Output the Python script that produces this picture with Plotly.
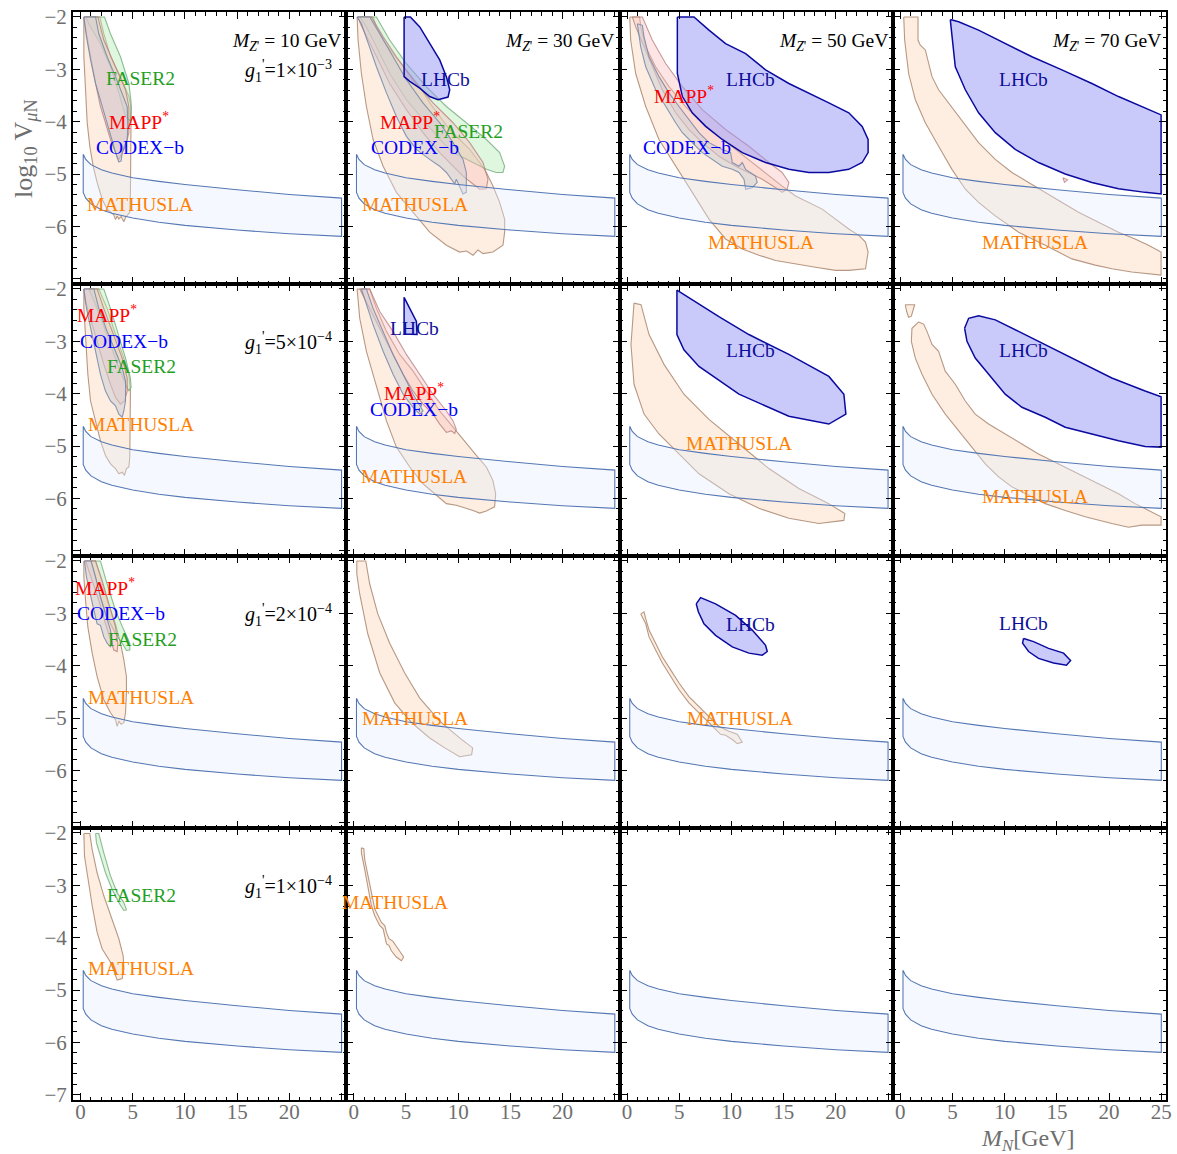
import plotly.graph_objects as go
from plotly.subplots import make_subplots

SERIF = "Liberation Serif, Times New Roman, serif"

# ---------------- data ----------------
MZ_VALUES = ["10", "30", "50", "70"]
G1_VALUES = ["1×10<sup>−3</sup>", "5×10<sup>−4</sup>", "2×10<sup>−4</sup>", "1×10<sup>−4</sup>"]

X_TICKS = [0, 5, 10, 15, 20, 25]
Y_TICKS = [-7, -6, -5, -4, -3, -2]

# reference band (same in every panel)
BAND_MN = [0.26, 0.5, 1, 2, 3, 5, 7.5, 10, 15, 20, 25]
BAND_UPPER = [-4.62, -4.72, -4.82, -4.92, -4.98, -5.07, -5.14, -5.20, -5.30, -5.39, -5.46]
BAND_LOWER = [-5.35, -5.46, -5.57, -5.68, -5.75, -5.84, -5.92, -5.98, -6.07, -6.14, -6.19]

# ---- row 1 : g1' = 1e-3 ----
MATHUSLA_R1C1 = [(0.32,-2.0),(1.85,-2.0),(2.23,-2.32),(2.87,-2.76),(3.83,-3.14),(4.63,-3.52),(4.85,-3.71),
                 (4.85,-4.66),(4.78,-5.35),(4.72,-5.73),(4.31,-5.83),(4.15,-5.91),(3.89,-5.81),(3.67,-5.86),
                 (3.51,-5.80),(3.35,-5.87),(3.19,-5.78),(2.55,-5.67),(2.07,-5.48),(1.59,-5.16),(1.21,-4.85),
                 (0.89,-4.47),(0.64,-4.02),(0.48,-3.39),(0.32,-2.76)]
FASER2_R1C1 = [(0.48,-2.0),(2.30,-2.0),(2.87,-2.32),(3.83,-2.76),(4.63,-3.27),(4.85,-3.64),(4.78,-3.99),
               (4.31,-3.90),(3.67,-3.45),(2.87,-2.95),(1.91,-2.51),(0.96,-2.19)]
MAPP_R1C1 = [(0.32,-2.0),(1.66,-2.0),(2.23,-2.44),(3.35,-2.95),(4.31,-3.39),(4.63,-3.71),(4.63,-4.21),
             (4.31,-4.47),(3.99,-4.59),(3.67,-4.72),(3.35,-4.59),(2.87,-4.34),(2.39,-4.02),(1.91,-3.71),
             (1.44,-3.27),(0.96,-2.76),(0.57,-2.32)]
CODEXB_R1C1 = [(0.32,-2.0),(1.44,-2.0),(1.75,-2.32),(2.55,-2.76),(3.35,-3.14),(3.99,-3.45),(4.47,-3.71),
               (4.53,-4.09),(4.47,-4.34),(4.21,-4.47),(3.99,-4.59),(3.89,-4.75),(3.67,-4.77),(3.51,-4.69),
               (3.19,-4.47),(2.87,-4.28),(2.39,-3.96),(1.91,-3.64),(1.44,-3.27),(0.96,-2.82),(0.57,-2.38)]

MATHUSLA_R1C2 = [(0.32,-2.0),(1.85,-2.0),(2.17,-2.19),(2.81,-2.44),(3.76,-2.70),(5.04,-3.01),(6.32,-3.33),
                 (7.27,-3.64),(8.23,-3.90),(9.19,-4.15),(10.14,-4.34),(11.10,-4.53),(12.06,-4.78),(12.70,-4.97),
                 (13.33,-5.23),(13.97,-5.54),(14.45,-5.86),(14.45,-6.11),(14.29,-6.36),(13.33,-6.49),
                 (12.38,-6.52),(11.9,-6.45),(11.42,-6.55),(10.8,-6.47),(10.14,-6.49),(8.87,-6.36),(7.27,-6.11),
                 (5.68,-5.73),(4.08,-5.35),(2.81,-4.85),(1.85,-4.34),(1.21,-3.71),(0.73,-3.08),(0.41,-2.44)]
FASER2_R1C2 = [(0.57,-2.0),(2.17,-2.0),(3.44,-2.44),(5.04,-2.89),(6.95,-3.33),(8.87,-3.71),(10.78,-4.02),
               (12.70,-4.34),(13.97,-4.59),(14.45,-4.85),(14.29,-4.97),(13.65,-4.97),(12.70,-4.91),
               (11.42,-4.78),(9.51,-4.59),(8.23,-4.34),(6.63,-3.96),(5.04,-3.58),(3.44,-3.08),(2.17,-2.57),
               (1.21,-2.19)]
MAPP_R1C2 = [(0.41,-2.0),(1.69,-2.0),(2.81,-2.38),(4.08,-2.76),(5.68,-3.20),(7.59,-3.64),(9.51,-4.02),
             (11.10,-4.40),(12.38,-4.78),(12.85,-5.10),(12.70,-5.28),(12.06,-5.29),(11.42,-5.19),
             (10.46,-5.04),(9.51,-4.85),(8.23,-4.59),(6.63,-4.21),(5.04,-3.77),(3.44,-3.27),(2.17,-2.76),
             (1.21,-2.38),(0.64,-2.13)]
CODEXB_R1C2 = [(0.32,-2.0),(1.53,-2.0),(2.49,-2.32),(3.76,-2.76),(5.04,-3.20),(6.63,-3.64),(8.23,-4.02),
               (9.51,-4.40),(10.46,-4.72),(10.78,-4.97),(10.78,-5.35),(10.46,-5.38),(10.14,-5.23),
               (9.82,-5.10),(9.67,-5.19),(9.35,-5.10),(8.87,-4.97),(8.23,-4.85),(7.27,-4.72),(6.0,-4.53),
               (5.04,-4.28),(4.08,-3.90),(3.13,-3.45),(2.17,-2.95),(1.37,-2.51),(0.73,-2.13)]
LHCB_R1C2 = [(4.82,-2.0),(5.42,-2.0),(6.32,-2.19),(7.27,-2.51),(8.23,-2.82),(8.87,-3.14),(9.19,-3.39),
             (9.03,-3.53),(8.07,-3.58),(7.27,-3.52),(6.32,-3.36),(5.36,-3.23),(4.82,-3.14)]

MATHUSLA_R1C3 = [(0.26,-2.0),(1.21,-2.0),(1.31,-2.19),(1.79,-2.57),(2.74,-2.95),(4.02,-3.33),(5.61,-3.71),
                 (7.21,-4.02),(8.80,-4.28),(10.40,-4.53),(11.99,-4.78),(13.59,-5.04),(14.86,-5.23),
                 (16.14,-5.42),(17.42,-5.54),(18.69,-5.67),(19.97,-5.86),(21.24,-6.05),(22.20,-6.17),
                 (22.84,-6.30),(23.09,-6.49),(22.84,-6.81),(21.24,-6.84),(19.97,-6.84),(18.05,-6.78),
                 (15.82,-6.71),(14.23,-6.65),(12.63,-6.55),(11.04,-6.43),(9.44,-6.24),(7.85,-5.86),
                 (6.25,-5.35),(4.66,-4.85),(3.06,-4.34),(1.79,-3.71),(0.83,-3.08),(0.35,-2.44)]
MAPP_R1C3 = [(0.51,-2.0),(1.47,-2.0),(2.42,-2.44),(3.70,-2.89),(5.30,-3.33),(7.21,-3.77),(9.44,-4.15),
             (11.67,-4.47),(13.59,-4.78),(14.86,-4.97),(15.50,-5.16),(15.34,-5.29),(14.86,-5.35),
             (14.23,-5.26),(12.95,-5.10),(11.67,-4.97),(10.40,-4.85),(8.80,-4.66),(7.21,-4.40),
             (5.93,-4.15),(4.66,-3.83),(3.38,-3.39),(2.42,-2.95),(1.47,-2.51),(0.83,-2.19)]
CODEXB_R1C3 = [(0.99,-2.13),(1.47,-2.16),(1.63,-2.38),(2.11,-2.76),(3.06,-3.14),(4.02,-3.45),(4.98,-3.71),
               (5.93,-3.96),(6.89,-4.21),(7.85,-4.40),(9.12,-4.53),(9.92,-4.59),(10.08,-4.78),(10.72,-4.85),
               (11.04,-4.78),(11.36,-4.91),(12.31,-5.04),(12.47,-5.16),(11.99,-5.26),(11.36,-5.29),
               (11.20,-5.10),(10.72,-4.97),(10.08,-4.91),(9.12,-4.85),(8.17,-4.72),(7.21,-4.59),
               (6.25,-4.40),(5.30,-4.21),(4.66,-4.02),(3.70,-3.71),(2.74,-3.39),(1.79,-2.95),(1.31,-2.57)]
LHCB_R1C3 = [(4.82,-2.0),(6.41,-2.0),(7.85,-2.25),(9.44,-2.51),(11.36,-2.70),(13.27,-3.01),(15.50,-3.27),
             (17.42,-3.45),(19.33,-3.64),(21.24,-3.83),(22.52,-4.09),(23.09,-4.34),(23.09,-4.59),
             (22.52,-4.78),(21.24,-4.91),(19.33,-4.97),(17.42,-4.97),(15.50,-4.91),(13.27,-4.78),
             (11.04,-4.59),(9.12,-4.34),(7.53,-4.09),(6.25,-3.83),(5.30,-3.52),(4.82,-3.08)]

MATHUSLA_R1C4 = [(0.33,-2.0),(1.70,-2.0),(1.70,-2.44),(1.92,-2.54),(2.40,-2.63),(2.72,-2.89),(3.04,-3.14),
                 (3.67,-3.39),(4.63,-3.64),(5.59,-3.90),(6.55,-4.15),(7.50,-4.40),(9.10,-4.72),(10.69,-4.97),
                 (12.29,-5.16),(13.88,-5.35),(15.48,-5.54),(17.07,-5.73),(18.99,-5.92),(20.90,-6.11),
                 (22.49,-6.24),(23.77,-6.36),(24.98,-6.49),(24.98,-6.93),(22.17,-6.87),(20.26,-6.81),
                 (18.67,-6.74),(16.43,-6.62),(13.88,-6.36),(11.33,-6.11),(9.10,-5.80),(7.50,-5.54),
                 (6.23,-5.29),(4.95,-4.91),(3.67,-4.47),(2.40,-4.02),(1.44,-3.58),(0.80,-3.08),(0.42,-2.44)]
MAPP_R1C4 = [(15.57,-5.07),(16.02,-5.11),(15.73,-5.16)]
LHCB_R1C4 = [(4.79,-2.05),(5.59,-2.09),(7.50,-2.25),(10.05,-2.51),(12.61,-2.76),(15.48,-3.01),(18.35,-3.27),
             (20.90,-3.52),(23.13,-3.71),(24.98,-3.87),(24.98,-5.38),(23.45,-5.35),(20.90,-5.28),
             (18.35,-5.16),(15.80,-5.00),(13.24,-4.78),(11.01,-4.53),(9.10,-4.21),(7.50,-3.83),
             (6.23,-3.39),(5.27,-2.95)]

# ---- row 2 : g1' = 5e-4 ----
MATHUSLA_R2C1 = [(0.32,-2.0),(1.75,-2.0),(2.55,-2.37),(3.35,-2.87),(4.15,-3.32),(4.63,-3.63),(4.78,-3.95),
                 (4.78,-4.58),(4.72,-5.21),(4.63,-5.40),(4.40,-5.43),(4.21,-5.56),(3.99,-5.50),(3.67,-5.53),
                 (3.35,-5.43),(2.87,-5.34),(2.39,-5.18),(1.91,-4.90),(1.44,-4.52),(0.96,-4.14),(0.70,-3.63),
                 (0.48,-3.0),(0.32,-2.37)]
FASER2_R2C1 = [(0.80,-2.0),(2.23,-2.0),(2.87,-2.37),(3.51,-2.81),(4.31,-3.32),(4.78,-3.70),(4.85,-3.88),
               (4.63,-3.95),(4.31,-3.82),(3.67,-3.51),(2.87,-3.06),(2.07,-2.62),(1.44,-2.30)]
MAPP_R2C1 = [(0.32,-2.0),(1.59,-2.0),(2.23,-2.37),(3.19,-2.87),(3.99,-3.32),(4.47,-3.70),(4.47,-3.95),
             (4.21,-4.14),(3.83,-4.20),(3.35,-4.07),(2.87,-3.82),(2.23,-3.44),(1.59,-3.0),(0.96,-2.56),
             (0.48,-2.24)]
CODEXB_R2C1 = [(0.32,-2.0),(1.28,-2.0),(1.75,-2.37),(2.55,-2.81),(3.35,-3.19),(3.99,-3.51),(4.31,-3.76),
               (4.31,-4.14),(4.15,-4.33),(3.99,-4.45),(3.67,-4.39),(3.35,-4.23),(2.87,-4.14),(2.39,-3.95),
               (1.91,-3.63),(1.44,-3.19),(0.96,-2.75),(0.57,-2.37)]

MATHUSLA_R2C2 = [(0.32,-2.0),(1.53,-2.0),(2.17,-2.37),(3.13,-2.81),(4.40,-3.25),(5.68,-3.57),(6.95,-3.95),
                 (8.23,-4.33),(9.51,-4.64),(10.78,-4.96),(11.74,-5.18),(12.70,-5.40),(13.33,-5.66),
                 (13.59,-5.91),(13.49,-6.16),(12.70,-6.24),(12.06,-6.28),(11.42,-6.23),(10.78,-6.19),
                 (9.82,-6.13),(8.87,-6.10),(7.91,-5.94),(6.63,-5.72),(5.36,-5.40),(4.08,-5.02),(3.13,-4.52),
                 (2.17,-3.88),(1.21,-3.19),(0.57,-2.56)]
MAPP_R2C2 = [(0.57,-2.0),(1.53,-2.0),(2.49,-2.43),(3.76,-2.81),(5.04,-3.25),(6.32,-3.63),(7.59,-4.01),
             (8.87,-4.33),(9.51,-4.52),(9.82,-4.68),(9.67,-4.76),(9.35,-4.71),(8.87,-4.74),(8.23,-4.58),
             (7.59,-4.39),(6.63,-4.20),(5.68,-3.95),(4.72,-3.63),(3.76,-3.25),(2.81,-2.87),(1.85,-2.49),
             (1.05,-2.18)]
CODEXB_R2C2 = [(0.73,-2.0),(1.21,-2.0),(1.85,-2.37),(2.81,-2.81),(3.76,-3.25),(4.72,-3.63),(5.68,-4.01),
               (6.63,-4.33),(6.32,-4.39),(5.68,-4.26),(4.72,-4.01),(3.76,-3.63),(2.81,-3.19),(1.85,-2.68),
               (1.21,-2.30)]
LHCB_R2C2 = [(4.82,-2.16),(6.0,-2.62),(6.06,-2.87),(4.82,-2.86)]

MATHUSLA_R2C3 = [(0.67,-2.27),(1.34,-2.30),(2.11,-2.87),(3.54,-3.44),(5.45,-4.01),(7.85,-4.49),(10.72,-4.96),
                 (13.59,-5.43),(16.46,-5.81),(19.33,-6.10),(20.86,-6.29),(20.77,-6.42),(18.37,-6.48),
                 (15.50,-6.38),(12.63,-6.19),(9.76,-5.91),(6.89,-5.53),(4.98,-5.15),(3.06,-4.77),
                 (1.63,-4.39),(0.67,-3.82),(0.38,-3.06)]
LHCB_R2C3 = [(4.78,-2.02),(6.41,-2.23),(8.80,-2.53),(11.67,-2.87),(15.50,-3.25),(19.33,-3.67),(20.77,-4.01),
             (20.96,-4.39),(19.33,-4.58),(15.50,-4.43),(10.72,-4.01),(6.89,-3.48),(5.45,-3.16),(4.78,-2.87)]

MATHUSLA_R2C4_SPOT = [(0.48,-2.30),(1.38,-2.30),(1.06,-2.52),(0.80,-2.54),(0.61,-2.43)]
MATHUSLA_R2C4 = [(1.76,-2.63),(1.12,-2.75),(1.06,-3.0),(1.44,-3.32),(2.08,-3.63),(3.04,-4.01),(4.31,-4.39),
                 (5.59,-4.71),(6.87,-5.02),(8.14,-5.34),(9.42,-5.59),(10.69,-5.78),(12.29,-5.94),(13.88,-6.10),
                 (15.80,-6.23),(17.71,-6.35),(20.26,-6.48),(21.86,-6.55),(23.13,-6.51),(24.98,-6.51),
                 (24.98,-6.35),(23.77,-6.23),(22.49,-6.10),(20.90,-5.91),(18.99,-5.72),(17.07,-5.53),
                 (15.16,-5.34),(13.24,-5.15),(11.65,-4.96),(10.05,-4.77),(8.46,-4.58),(7.18,-4.39),
                 (6.23,-4.14),(5.27,-3.82),(4.31,-3.57),(3.67,-3.19),(3.04,-3.06),(2.56,-2.81),(2.24,-2.67)]
LHCB_R2C4 = [(6.16,-2.75),(6.55,-2.56),(7.50,-2.51),(9.10,-2.59),(11.33,-2.81),(13.88,-3.06),(17.07,-3.38),
             (20.26,-3.70),(23.45,-3.95),(24.98,-4.06),(24.98,-5.02),(23.45,-5.01),(20.90,-4.90),
             (18.35,-4.77),(15.80,-4.64),(13.88,-4.45),(11.65,-4.26),(10.05,-4.01),(8.46,-3.63),
             (7.18,-3.32),(6.39,-3.0)]

# ---- row 3 : g1' = 2e-4 ----
MATHUSLA_R3C1 = [(0.32,-2.0),(1.44,-2.0),(1.91,-2.31),(2.55,-2.75),(3.35,-3.20),(3.83,-3.57),(4.15,-3.89),
                 (4.40,-4.21),(4.40,-4.52),(4.31,-4.90),(4.15,-5.09),(3.89,-5.12),(3.67,-5.06),(3.51,-5.16),
                 (3.35,-5.03),(2.87,-4.90),(2.23,-4.65),(1.59,-4.21),(1.12,-3.76),(0.70,-3.26),(0.48,-2.75),
                 (0.32,-2.31)]
FASER2_R3C1 = [(0.96,-2.0),(1.91,-2.0),(2.55,-2.44),(3.35,-2.94),(4.15,-3.32),(4.72,-3.57),(4.72,-3.70),
               (4.40,-3.71),(3.99,-3.57),(3.35,-3.39),(2.55,-3.07),(1.91,-2.69),(1.44,-2.31)]
MAPP_R3C1 = [(0.48,-2.0),(1.44,-2.0),(2.07,-2.37),(2.71,-2.82),(3.35,-3.26),(3.57,-3.57),(3.51,-3.73),
             (3.19,-3.70),(2.87,-3.51),(2.39,-3.20),(1.75,-2.75),(1.12,-2.37),(0.64,-2.12)]
CODEXB_R3C1 = [(0.38,-2.0),(1.02,-2.0),(1.44,-2.31),(1.91,-2.69),(2.39,-3.01),(2.87,-3.32),(3.03,-3.57),
               (2.87,-3.64),(2.55,-3.57),(2.23,-3.45),(1.91,-3.23),(1.59,-3.20),(1.28,-2.94),(0.96,-2.63),
               (0.57,-2.31)]

MATHUSLA_R3C2 = [(0.29,-2.0),(1.15,-2.0),(1.53,-2.44),(2.30,-3.01),(3.44,-3.57),(4.88,-4.14),(6.32,-4.62),
                 (8.23,-5.06),(10.14,-5.38),(11.39,-5.57),(11.29,-5.70),(10.14,-5.74),(8.71,-5.57),
                 (7.27,-5.38),(5.55,-5.09),(3.92,-4.71),(2.49,-4.14),(1.34,-3.39),(0.57,-2.63),(0.29,-2.25)]

MATHUSLA_R3C3 = [(1.31,-3.01),(1.63,-2.97),(1.79,-3.10),(2.11,-3.32),(2.74,-3.57),(3.38,-3.83),(4.18,-4.08),
                 (4.98,-4.33),(5.93,-4.59),(6.89,-4.78),(7.85,-4.97),(8.80,-5.16),(9.76,-5.25),(10.56,-5.31),
                 (11.04,-5.46),(10.56,-5.49),(10.08,-5.41),(9.44,-5.33),(8.96,-5.31),(8.48,-5.22),
                 (7.85,-5.09),(6.89,-4.90),(5.93,-4.71),(4.98,-4.46),(4.18,-4.21),(3.38,-3.95),(2.74,-3.70),
                 (2.11,-3.45),(1.79,-3.20),(1.47,-3.08)]
LHCB_R3C3 = [(6.63,-2.82),(7.05,-2.70),(8.48,-2.82),(10.40,-3.04),(11.99,-3.32),(13.27,-3.61),(13.43,-3.73),
             (12.95,-3.80),(11.67,-3.76),(10.08,-3.64),(8.48,-3.42),(7.37,-3.20),(6.83,-2.97)]

LHCB_R3C4 = [(11.81,-3.48),(12.77,-3.54),(14.20,-3.67),(15.64,-3.76),(16.31,-3.90),(15.92,-3.99),
             (14.68,-3.95),(13.24,-3.86),(12.29,-3.73),(11.71,-3.57)]

# ---- row 4 : g1' = 1e-4 ----
MATHUSLA_R4C1 = [(0.32,-2.01),(0.89,-2.01),(1.12,-2.32),(1.59,-2.76),(2.23,-3.20),(3.03,-3.64),(3.67,-4.02),
                 (4.08,-4.34),(4.15,-4.59),(3.99,-4.78),(3.51,-4.81),(3.35,-4.72),(2.87,-4.47),(2.07,-4.21),
                 (1.59,-3.90),(1.12,-3.39),(0.70,-2.89),(0.38,-2.44)]
FASER2_R4C1 = [(1.44,-2.01),(1.75,-2.01),(2.23,-2.38),(2.87,-2.82),(3.51,-3.14),(4.15,-3.33),(4.40,-3.47),
               (4.15,-3.48),(3.67,-3.33),(3.03,-3.08),(2.39,-2.76),(1.91,-2.44),(1.53,-2.19)]
MATHUSLA_R4C2 = [(0.73,-2.28),(0.96,-2.30),(1.05,-2.51),(1.37,-2.82),(1.69,-3.14),(2.01,-3.45),(2.33,-3.58),
                 (2.65,-3.71),(2.97,-3.77),(3.13,-3.90),(3.38,-4.02),(3.76,-4.07),(4.24,-4.21),(4.78,-4.37),
                 (4.56,-4.44),(4.08,-4.37),(3.60,-4.25),(3.38,-4.15),(3.13,-4.12),(2.81,-3.83),(2.49,-3.77),
                 (2.01,-3.58),(1.69,-3.39),(1.37,-3.08),(1.05,-2.70),(0.73,-2.38)]

# (row, col, detector, polygon) -- drawing order
REGIONS = [
    (1, 1, "MATHUSLA", MATHUSLA_R1C1), (1, 1, "FASER2", FASER2_R1C1), (1, 1, "MAPP", MAPP_R1C1), (1, 1, "CODEXB", CODEXB_R1C1),
    (1, 2, "MATHUSLA", MATHUSLA_R1C2), (1, 2, "FASER2", FASER2_R1C2), (1, 2, "MAPP", MAPP_R1C2), (1, 2, "CODEXB", CODEXB_R1C2), (1, 2, "LHCB", LHCB_R1C2),
    (1, 3, "MATHUSLA", MATHUSLA_R1C3), (1, 3, "MAPP", MAPP_R1C3), (1, 3, "CODEXB", CODEXB_R1C3), (1, 3, "LHCB", LHCB_R1C3),
    (1, 4, "MATHUSLA", MATHUSLA_R1C4), (1, 4, "MAPP", MAPP_R1C4), (1, 4, "LHCB", LHCB_R1C4),
    (2, 1, "MATHUSLA", MATHUSLA_R2C1), (2, 1, "FASER2", FASER2_R2C1), (2, 1, "MAPP", MAPP_R2C1), (2, 1, "CODEXB", CODEXB_R2C1),
    (2, 2, "MATHUSLA", MATHUSLA_R2C2), (2, 2, "MAPP", MAPP_R2C2), (2, 2, "CODEXB", CODEXB_R2C2), (2, 2, "LHCB", LHCB_R2C2),
    (2, 3, "MATHUSLA", MATHUSLA_R2C3), (2, 3, "LHCB", LHCB_R2C3),
    (2, 4, "MATHUSLA", MATHUSLA_R2C4_SPOT), (2, 4, "MATHUSLA", MATHUSLA_R2C4), (2, 4, "LHCB", LHCB_R2C4),
    (3, 1, "MATHUSLA", MATHUSLA_R3C1), (3, 1, "FASER2", FASER2_R3C1), (3, 1, "MAPP", MAPP_R3C1), (3, 1, "CODEXB", CODEXB_R3C1),
    (3, 2, "MATHUSLA", MATHUSLA_R3C2),
    (3, 3, "MATHUSLA", MATHUSLA_R3C3), (3, 3, "LHCB", LHCB_R3C3),
    (3, 4, "LHCB", LHCB_R3C4),
    (4, 1, "MATHUSLA", MATHUSLA_R4C1), (4, 1, "FASER2", FASER2_R4C1),
    (4, 2, "MATHUSLA", MATHUSLA_R4C2),
]

# (row, col, detector, x, y) label positions
LABELS = [
    (1, 1, "FASER2", 5.74, -3.17), (1, 1, "MAPP", 5.58, -3.99), (1, 1, "CODEXB", 5.74, -4.50), (1, 1, "MATHUSLA", 5.74, -5.59),
    (1, 2, "LHCB", 8.80, -3.19), (1, 2, "MAPP", 5.36, -3.99), (1, 2, "FASER2", 10.94, -4.18), (1, 2, "CODEXB", 5.84, -4.50), (1, 2, "MATHUSLA", 5.84, -5.59),
    (1, 3, "LHCB", 11.83, -3.19), (1, 3, "MAPP", 5.45, -3.49), (1, 3, "CODEXB", 5.77, -4.50), (1, 3, "MATHUSLA", 12.79, -6.30),
    (1, 4, "LHCB", 11.81, -3.19), (1, 4, "MATHUSLA", 12.86, -6.30),
    (2, 1, "MAPP", 2.55, -2.48), (2, 1, "CODEXB", 4.21, -3.00), (2, 1, "FASER2", 5.81, -3.49), (2, 1, "MATHUSLA", 5.81, -4.58),
    (2, 2, "LHCB", 5.84, -2.76), (2, 2, "MAPP", 5.74, -3.96), (2, 2, "CODEXB", 5.74, -4.30), (2, 2, "MATHUSLA", 5.74, -5.59),
    (2, 3, "LHCB", 11.87, -3.18), (2, 3, "MATHUSLA", 10.72, -4.96),
    (2, 4, "LHCB", 11.81, -3.18), (2, 4, "MATHUSLA", 12.86, -5.97),
    (3, 1, "MAPP", 2.39, -2.49), (3, 1, "CODEXB", 3.83, -3.01), (3, 1, "FASER2", 5.90, -3.50), (3, 1, "MATHUSLA", 5.81, -4.60),
    (3, 2, "MATHUSLA", 5.84, -5.00),
    (3, 3, "LHCB", 11.83, -3.21), (3, 3, "MATHUSLA", 10.78, -5.00),
    (3, 4, "LHCB", 11.81, -3.20),
    (4, 1, "FASER2", 5.81, -3.19), (4, 1, "MATHUSLA", 5.81, -4.59),
    (4, 2, "MATHUSLA", 3.92, -3.32),
]

# ---------------- styles ----------------
STYLE = {
    "MATHUSLA": dict(fill="rgba(250,205,170,0.35)", line="rgba(160,120,95,0.75)"),
    "FASER2": dict(fill="rgba(185,235,185,0.45)", line="rgba(100,160,110,0.7)"),
    "MAPP": dict(fill="rgba(250,190,190,0.40)", line="rgba(175,115,115,0.7)"),
    "CODEXB": dict(fill="rgba(205,205,212,0.55)", line="rgba(110,130,165,0.8)"),
    "LHCB": dict(fill="rgba(150,150,245,0.50)", line="rgb(10,10,160)"),
}
LABEL_TEXT = {"MATHUSLA": "MATHUSLA", "FASER2": "FASER2", "MAPP": "MAPP<sup>*</sup>",
              "CODEXB": "CODEX−b", "LHCB": "LHCb"}
LABEL_COLOR = {"MATHUSLA": "#ff8000", "FASER2": "#1fa01f", "MAPP": "#ff0000",
               "CODEXB": "#0000ff", "LHCB": "#0d0d9a"}

fig = make_subplots(rows=4, cols=4, horizontal_spacing=0, vertical_spacing=0)

for (r, c, det, poly) in REGIONS:
    xs = [p[0] for p in poly] + [poly[0][0]]
    ys = [p[1] for p in poly] + [poly[0][1]]
    st = STYLE[det]
    fig.add_trace(go.Scatter(x=xs, y=ys, mode="lines", fill="toself", fillcolor=st["fill"],
                             line=dict(color=st["line"], width=1.5 if det == "LHCB" else 1.1),
                             hoverinfo="skip", showlegend=False), row=r, col=c)

for r in range(1, 5):
    for c in range(1, 5):
        bx = BAND_MN + BAND_MN[::-1] + [BAND_MN[0]]
        by = BAND_UPPER + BAND_LOWER[::-1] + [BAND_UPPER[0]]
        fig.add_trace(go.Scatter(x=bx, y=by, mode="lines", fill="toself",
                                 fillcolor="rgba(225,238,255,0.35)",
                                 line=dict(color="rgb(85,120,180)", width=1.1),
                                 hoverinfo="skip", showlegend=False), row=r, col=c)

for (r, c, det, x, y) in LABELS:
    fig.add_annotation(x=x, y=y, text=LABEL_TEXT[det], showarrow=False, row=r, col=c,
                       font=dict(family=SERIF, size=19.5, color=LABEL_COLOR[det]),
                       xanchor="center", yanchor="middle")

for c in range(1, 5):
    fig.add_annotation(x=25.15, y=-2.47, xanchor="right", yanchor="middle", showarrow=False, row=1, col=c,
                       text="<i>M</i><sub><i>Z</i>'</sub> = " + MZ_VALUES[c - 1] + " GeV",
                       font=dict(family=SERIF, size=19.5, color="black"))
for r in range(1, 5):
    fig.add_annotation(x=24.3, y=-3.03, xanchor="right", yanchor="middle", showarrow=False, row=r, col=1,
                       text="<i>g</i><sub>1</sub><sup>'</sup>=" + G1_VALUES[r - 1],
                       font=dict(family=SERIF, size=20, color="black"))

tickfont = dict(family=SERIF, size=21, color="#6e6e6e")
for r in range(1, 5):
    for c in range(1, 5):
        xt = [str(v) for v in X_TICKS]
        if c < 4:
            xt[-1] = ""
        fig.update_xaxes(row=r, col=c, range=[-0.72, 25.45], showgrid=False, zeroline=False,
                         showline=True, linecolor="black", linewidth=2, mirror="allticks",
                         ticks="inside", ticklen=7, tickwidth=1.3, tickcolor="black",
                         tickmode="array", tickvals=X_TICKS, ticktext=xt,
                         showticklabels=(r == 4), tickfont=tickfont, ticklabelstandoff=-8,
                         minor=dict(ticks="inside", dtick=1, tick0=0, ticklen=3.5, tickwidth=1, tickcolor="black"))
        yt = ["−" + str(-v) for v in Y_TICKS]
        if r < 4:
            yt[0] = ""
        fig.update_yaxes(row=r, col=c, range=[-7.1, -1.905], showgrid=False, zeroline=False,
                         showline=True, linecolor="black", linewidth=2, mirror="allticks",
                         ticks="inside", ticklen=7, tickwidth=1.3, tickcolor="black",
                         tickmode="array", tickvals=Y_TICKS, ticktext=yt,
                         showticklabels=(c == 1), tickfont=tickfont,
                         minor=dict(ticks="inside", dtick=0.2, tick0=-7, ticklen=3.5, tickwidth=1, tickcolor="black"))

fig.add_annotation(xref="paper", yref="paper", x=-0.044, y=0.875, textangle=-90, showarrow=False,
                   xanchor="center", yanchor="middle",
                   text="log<sub>10</sub> V<sub><i>μ</i>N</sub>",
                   font=dict(family=SERIF, size=26, color="#6e6e6e"))
fig.add_annotation(xref="paper", yref="paper", x=0.874, y=-0.0365, showarrow=False,
                   xanchor="center", yanchor="middle",
                   text="<i>M</i><sub><i>N</i></sub>[GeV]",
                   font=dict(family=SERIF, size=24, color="#6e6e6e"))

fig.update_layout(width=1177, height=1154, margin=dict(l=73, r=10, t=5, b=54),
                  plot_bgcolor="white", paper_bgcolor="white", showlegend=False)

fig.write_html("out.html", config={"displayModeBar": False},
               post_script="document.body.style.margin='0px';document.body.style.overflow='hidden';")
